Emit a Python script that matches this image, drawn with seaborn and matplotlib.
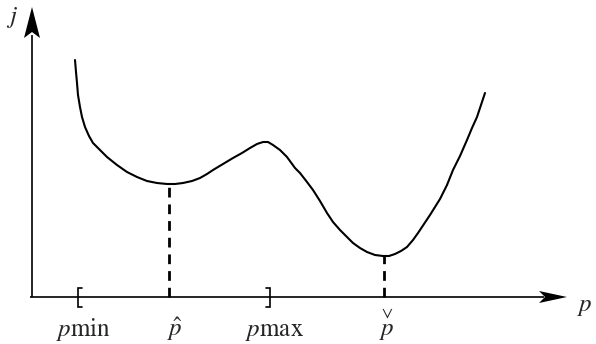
import matplotlib
matplotlib.use("Agg")
import matplotlib.pyplot as plt
import seaborn as sns
import pandas as pd

sns.set_theme(style="white")
plt.rcParams["font.family"] = ["Liberation Serif", "DejaVu Serif"]
plt.rcParams["mathtext.fontset"] = "stix"

# Cost curve j(p): parameter position along the axis and height above it
p_vals = [43, 44, 45, 46, 48, 50, 53, 57, 61, 68, 75, 85, 95, 105, 115, 125,
          135, 143, 151, 160, 168, 175, 181, 191, 201, 210, 218, 225, 231,
          236, 241, 248, 255, 263, 268, 275, 281, 288, 295, 301, 308, 315,
          321, 328, 335, 343, 351, 357, 363, 369, 375, 381, 386, 392, 398,
          403, 408, 415, 421, 428, 435, 440, 445, 449, 453]
j_vals = [237, 225, 214, 202, 190, 180, 170, 161, 154, 147, 140, 132, 125,
          120, 116, 114, 113, 113, 114, 116, 119, 123, 127, 133, 139, 144,
          149, 153, 155, 155, 152, 147, 140, 129, 124, 115, 107, 96, 84, 75,
          67, 60, 54, 49, 45, 42, 41, 41, 43, 46, 50, 57, 64, 73, 82, 90, 98,
          112, 127, 141, 157, 169, 180, 192, 204]

# Marked points on the parameter axis
p_min, p_max = 46, 238
p_hat, p_check = 137, 352
j_hat, j_check = 113, 41

tick_pos = [52, 143, 242, 355]
tick_text = [r"$p\mathrm{min}$", r"$\hat{p}$", r"$p\mathrm{max}$",
             r"$\overset{\vee}{p}$"]

fig = plt.figure(figsize=(5.96, 3.44), dpi=100)
ax = fig.add_axes([0, 0, 1, 1])
ax.set_xlim(-32, 564)
ax.set_ylim(-47, 297)
ax.axis("off")

df = pd.DataFrame({"p": p_vals, "j": j_vals})
sns.lineplot(data=df, x="p", y="j", sort=False, color="black",
             linewidth=1.5, ax=ax)

# Axes with arrow heads
ax.plot([-2, 512], [0, 0], color="black", linewidth=1.2, solid_capstyle="butt")
ax.plot([0, 0], [0, 262], color="black", linewidth=1.2, solid_capstyle="butt")
ax.fill([535, 507, 513, 507], [0, 6, 0, -6], color="black", linewidth=0)
ax.fill([0, -8, 0, 8], [290, 259, 265, 259], color="black", linewidth=0)

# Dashed guides from the minima down to the axis
ax.plot([p_hat, p_hat], [0, j_hat], color="black", linewidth=2,
        linestyle=(0, (3.5, 2.5)))
ax.plot([p_check, p_check], [0, j_check], color="black", linewidth=2,
        linestyle=(0, (3.5, 2.5)))

# Interval brackets
for x, d in [(p_min, 1), (p_max, -1)]:
    ax.plot([x + 4 * d, x, x, x + 4 * d], [9, 9, -10, -10], color="black",
            linewidth=1.2, solid_joinstyle="miter")

for x, s in zip(tick_pos, tick_text):
    ax.text(x, -39, s, ha="center", va="baseline", fontsize=18)

ax.text(-20, 274, r"$j$", ha="center", va="baseline", fontsize=18)
ax.text(545, -14, r"$p$", ha="left", va="baseline", fontsize=18)

fig.savefig("out.png", dpi=100)
